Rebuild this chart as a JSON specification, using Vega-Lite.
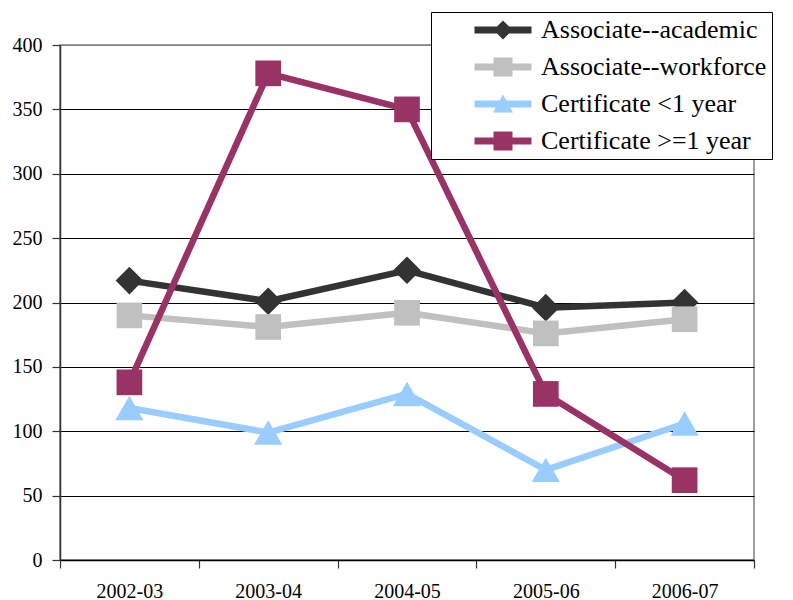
{
  "$schema": "https://vega.github.io/schema/vega-lite/v6.json",
  "width": 694,
  "height": 515,
  "autosize": "none",
  "padding": {"left": 60, "top": 45, "right": 39, "bottom": 40},
  "background": "white",
  "config": {
    "view": {"stroke": "#808080", "strokeWidth": 1.5},
    "font": "Liberation Serif",
    "axis": {
      "labelFont": "Liberation Serif",
      "labelColor": "black",
      "labelFontSize": 20,
      "tickColor": "#333333",
      "domainColor": "#333333",
      "domainWidth": 1.5,
      "tickWidth": 1.2,
      "tickSize": 8,
      "title": null
    }
  },
  "data": {
    "values": [
      {"year": "2002-03", "series": "Associate--academic", "value": 217},
      {"year": "2003-04", "series": "Associate--academic", "value": 201},
      {"year": "2004-05", "series": "Associate--academic", "value": 225},
      {"year": "2005-06", "series": "Associate--academic", "value": 196},
      {"year": "2006-07", "series": "Associate--academic", "value": 200},
      {"year": "2002-03", "series": "Associate--workforce", "value": 190},
      {"year": "2003-04", "series": "Associate--workforce", "value": 181},
      {"year": "2004-05", "series": "Associate--workforce", "value": 192},
      {"year": "2005-06", "series": "Associate--workforce", "value": 176},
      {"year": "2006-07", "series": "Associate--workforce", "value": 187},
      {"year": "2002-03", "series": "Certificate <1 year", "value": 118},
      {"year": "2003-04", "series": "Certificate <1 year", "value": 99},
      {"year": "2004-05", "series": "Certificate <1 year", "value": 129},
      {"year": "2005-06", "series": "Certificate <1 year", "value": 70},
      {"year": "2006-07", "series": "Certificate <1 year", "value": 106},
      {"year": "2002-03", "series": "Certificate >=1 year", "value": 138},
      {"year": "2003-04", "series": "Certificate >=1 year", "value": 378},
      {"year": "2004-05", "series": "Certificate >=1 year", "value": 350},
      {"year": "2005-06", "series": "Certificate >=1 year", "value": 129},
      {"year": "2006-07", "series": "Certificate >=1 year", "value": 62}
    ]
  },
  "encoding": {
    "x": {
      "field": "year",
      "type": "ordinal",
      "scale": {"paddingInner": 0, "paddingOuter": 0},
      "axis": {"labelAngle": 0, "tickBand": "extent", "labelPadding": 13, "grid": false, "domainColor": "black"}
    },
    "y": {
      "field": "value",
      "type": "quantitative",
      "scale": {"domain": [0, 400], "nice": false},
      "axis": {
        "values": [0, 50, 100, 150, 200, 250, 300, 350, 400],
        "grid": true,
        "gridColor": {"condition": {"test": "datum.value === 400", "value": "#808080"}, "value": "black"},
        "gridWidth": 1,
        "labelPadding": 10
      }
    },
    "color": {
      "field": "series",
      "type": "nominal",
      "scale": {
        "domain": ["Associate--academic", "Associate--workforce", "Certificate <1 year", "Certificate >=1 year"],
        "range": ["#333333", "#C0C0C0", "#99CCFF", "#993366"]
      }
    }
  },
  "layer": [
    {"mark": {"type": "line", "strokeWidth": 6.5, "strokeJoin": "round"}},
    {
      "transform": [{"filter": {"field": "series", "equal": "Associate--academic"}}],
      "mark": {"type": "point", "shape": "diamond", "filled": true, "size": 760, "opacity": 1}
    },
    {
      "transform": [{"filter": {"field": "series", "oneOf": ["Associate--workforce", "Certificate >=1 year"]}}],
      "mark": {"type": "point", "shape": "square", "filled": true, "size": 660, "opacity": 1}
    },
    {
      "transform": [{"filter": {"field": "series", "equal": "Certificate <1 year"}}],
      "mark": {"type": "point", "shape": "triangle-up", "filled": true, "size": 800, "opacity": 1}
    },
    {
      "mark": {"type": "point", "filled": true, "opacity": 0},
      "encoding": {
        "color": {
          "field": "series",
          "type": "nominal",
          "scale": {
            "domain": ["Associate--academic", "Associate--workforce", "Certificate <1 year", "Certificate >=1 year"],
            "range": ["#333333", "#C0C0C0", "#99CCFF", "#993366"]
          },
          "legend": {
            "orient": "none", "legendX": 371, "legendY": -33, "title": null,
            "strokeColor": "black", "fillColor": "white", "padding": 5,
            "symbolSize": 400, "symbolOffset": 54, "labelOffset": 25,
            "labelFontSize": 26, "labelFont": "Liberation Serif", "labelColor": "black",
            "labelLimit": 0, "rowPadding": 11, "symbolStrokeWidth": 0, "symbolOpacity": 1
          }
        },
        "shape": {
          "field": "series",
          "type": "nominal",
          "scale": {
            "domain": ["Associate--academic", "Associate--workforce", "Certificate <1 year", "Certificate >=1 year"],
            "range": [
              "M-2.85,-0.35H2.85V0.35H-2.85Z M-0.95,0L0,-0.95L0.95,0L0,0.95Z",
              "M-2.85,-0.35H2.85V0.35H-2.85Z M-0.95,-0.95H0.95V0.95H-0.95Z",
              "M-2.85,-0.35H2.85V0.35H-2.85Z M0,-0.95L1,0.85H-1Z",
              "M-2.85,-0.35H2.85V0.35H-2.85Z M-0.95,-0.95H0.95V0.95H-0.95Z"
            ]
          },
          "legend": {
            "orient": "none", "legendX": 371, "legendY": -33, "title": null,
            "strokeColor": "black", "fillColor": "white", "padding": 5,
            "symbolSize": 400, "symbolOffset": 54, "labelOffset": 25,
            "labelFontSize": 26, "labelFont": "Liberation Serif", "labelColor": "black",
            "labelLimit": 0, "rowPadding": 11, "symbolStrokeWidth": 0, "symbolOpacity": 1
          }
        }
      }
    }
  ]
}
